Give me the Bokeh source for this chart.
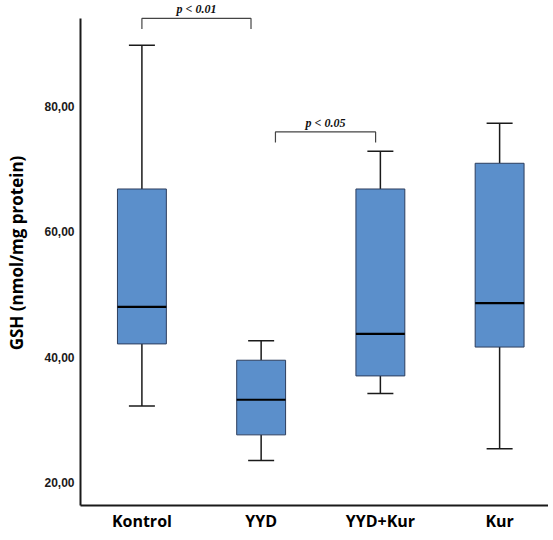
from bokeh.plotting import figure
from bokeh.models import ColumnDataSource, Range1d, Whisker, TeeHead, FixedTicker
from bokeh.transform import dodge
from bokeh.core.properties import value
from bokeh.embed import file_html
from bokeh.resources import INLINE

# ---- data ----
groups = ["Kontrol", "YYD", "YYD+Kur", "Kur"]
whisker_low = [32.2, 23.5, 34.2, 25.4]
q1 = [42.1, 27.6, 37.0, 41.6]
median = [48.0, 33.2, 43.7, 48.6]
q3 = [66.8, 39.5, 66.8, 70.9]
whisker_high = [89.7, 42.6, 72.8, 77.3]

y_ticks = [20, 40, 60, 80]
y_tick_labels = ["20,00", "40,00", "60,00", "80,00"]

# significance brackets: (left group, right group, height, label)
bracket_left = [1, 2]
bracket_right = [2, 3]
bracket_height = [94.0, 75.9]
bracket_label = ["p < 0.01", "p < 0.05"]

# ---- layout ----
pos = list(range(1, len(groups) + 1))
src = ColumnDataSource(dict(x=pos, lo=whisker_low, q1=q1, med=median, q3=q3, hi=whisker_high))

y_start, y_end = 16.34, 96.85
p = figure(width=548, height=534, output_backend="svg", toolbar_location=None,
           x_range=Range1d(0.485, 4.41), y_range=Range1d(y_start, y_end),
           min_border_left=80, min_border_right=0, min_border_top=0, min_border_bottom=28)
p.outline_line_color = None
p.grid.visible = False
p.background_fill_color = "white"

BOX_W = 0.41
FILL = "#5B8FCB"
EDGE = "#2D3E5E"

# whiskers
up = Whisker(source=src, base="x", lower="q3", upper="hi", dimension="height",
             line_color="#1a1a1a", line_width=1.5,
             upper_head=TeeHead(size=26, line_color="#1a1a1a", line_width=1.5), lower_head=None)
dn = Whisker(source=src, base="x", lower="lo", upper="q1", dimension="height",
             line_color="#1a1a1a", line_width=1.5,
             lower_head=TeeHead(size=26, line_color="#1a1a1a", line_width=1.5), upper_head=None)
p.add_layout(up)
p.add_layout(dn)

# boxes
p.vbar(x="x", width=BOX_W, bottom="q1", top="q3", source=src,
       fill_color=FILL, line_color=EDGE, line_width=1)
# medians
p.segment(x0=dodge("x", -BOX_W / 2), x1=dodge("x", BOX_W / 2), y0="med", y1="med",
          source=src, line_color="black", line_width=2.2)

# brackets
bl = [pos[bracket_left[0] - 1] + 0.0, pos[bracket_left[1] - 1] + 0.12]
br = [pos[bracket_right[0] - 1] - 0.085, pos[bracket_right[1] - 1] - 0.04]
drop = 1.7
xs = [[a, a, b, b] for a, b in zip(bl, br)]
ys = [[h - drop, h, h, h - drop] for h in bracket_height]
p.multi_line(xs=xs, ys=ys, line_color="#444444", line_width=1.2)
p.text(x=[(a + b) / 2 for a, b in zip(bl, br)], y=bracket_height,
       text=bracket_label, text_align="center", text_baseline="bottom", y_offset=-2,
       text_font=value("Liberation Serif"), text_font_style="bold italic",
       text_font_size="12px", text_color="#111111")

# axes
yax = p.yaxis[0]
yax.ticker = FixedTicker(ticks=y_ticks)
yax.major_label_overrides = {t: l for t, l in zip(y_ticks, y_tick_labels)}
yax.bounds = (y_start, 94.0)
yax.axis_label = "GSH (nmol/mg protein)"
yax.axis_label_text_font = "Open Sans"
yax.axis_label_text_font_style = "bold"
yax.axis_label_text_font_size = "17px"
yax.axis_label_text_color = "black"
yax.axis_label_standoff = 13
yax.major_label_text_font = "Liberation Sans"
yax.major_label_text_font_style = "bold"
yax.major_label_text_font_size = "12px"
yax.major_label_text_color = "#1a1a1a"
yax.major_label_standoff = 6
yax.major_tick_line_color = None
yax.major_tick_out = 0
yax.major_tick_in = 0
yax.minor_tick_line_color = None
yax.axis_line_width = 2
yax.axis_line_color = "#1a1a1a"

xax = p.xaxis[0]
xax.axis_label = None
xax.ticker = FixedTicker(ticks=pos)
xax.major_label_overrides = {i: g for i, g in zip(pos, groups)}
xax.major_label_text_font = "Open Sans"
xax.major_label_text_font_style = "bold"
xax.major_label_text_font_size = "16px"
xax.major_label_text_color = "black"
xax.major_label_standoff = 4
xax.major_tick_line_color = None
xax.major_tick_out = 0
xax.major_tick_in = 0
xax.minor_tick_line_color = None
xax.axis_line_width = 2
xax.axis_line_color = "#1a1a1a"

open("out.html", "w").write(file_html(p, INLINE))
